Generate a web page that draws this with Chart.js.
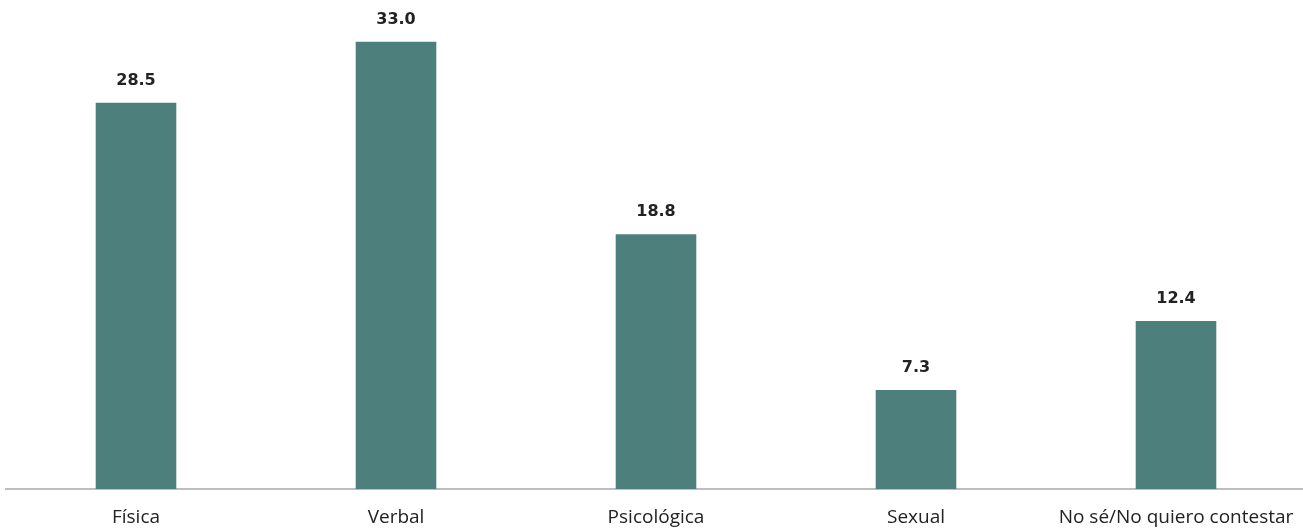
<!DOCTYPE html>
<html>
<head>
<meta charset="utf-8">
<script src="https://cdn.jsdelivr.net/npm/chart.js@4"></script>
<style>
  html, body { margin: 0; padding: 0; background: #fff; overflow: hidden; }
  #wrap { width: 1312px; height: 529px; position: relative; }
</style>
</head>
<body>
<div id="wrap"><canvas id="violenceChart"></canvas></div>
<script>
// Tipos de violencia (%)
const categories = ["Física", "Verbal", "Psicológica", "Sexual", "No sé/No quiero contestar"];
const percentages = [28.5, 33.0, 18.8, 7.3, 12.4];

const barColor = "#4d7f7c";

// draw the value above each bar
const valueLabels = {
  id: "valueLabels",
  afterDatasetsDraw(chart) {
    const ctx = chart.ctx;
    const meta = chart.getDatasetMeta(0);
    ctx.save();
    ctx.font = "bold 16px 'DejaVu Sans', sans-serif";
    ctx.fillStyle = "#222";
    ctx.textAlign = "center";
    ctx.textBaseline = "alphabetic";
    meta.data.forEach((bar, i) => {
      ctx.fillText(percentages[i].toFixed(1), bar.x, bar.y - 18);
    });
    ctx.restore();
  },
};

const ctx = document.getElementById("violenceChart").getContext("2d");
const violenceChart = new Chart(ctx, {
  type: "bar",
  data: {
    labels: categories,
    datasets: [
      {
        data: percentages,
        backgroundColor: barColor,
        barPercentage: 0.62,
        categoryPercentage: 0.5,
      },
    ],
  },
  options: {
    responsive: true,
    maintainAspectRatio: false,
    animation: false,
    layout: { padding: { top: 1, left: 6, right: 6, bottom: 0 } },
    plugins: {
      legend: { display: false },
      tooltip: { enabled: false },
    },
    scales: {
      x: {
        grid: { display: false, drawTicks: false },
        border: { display: true, color: "#bdbdbd", width: 2 },
        ticks: {
          color: "#222",
          padding: 17,
          maxRotation: 0,
          autoSkip: false,
          font: { family: "'Open Sans', sans-serif", size: 19 },
        },
        afterFit(scale) {
          scale.height = 40;
        },
      },
      y: {
        display: false,
        min: 0,
        max: 36,
      },
    },
  },
  plugins: [valueLabels],
});
</script>
</body>
</html>
